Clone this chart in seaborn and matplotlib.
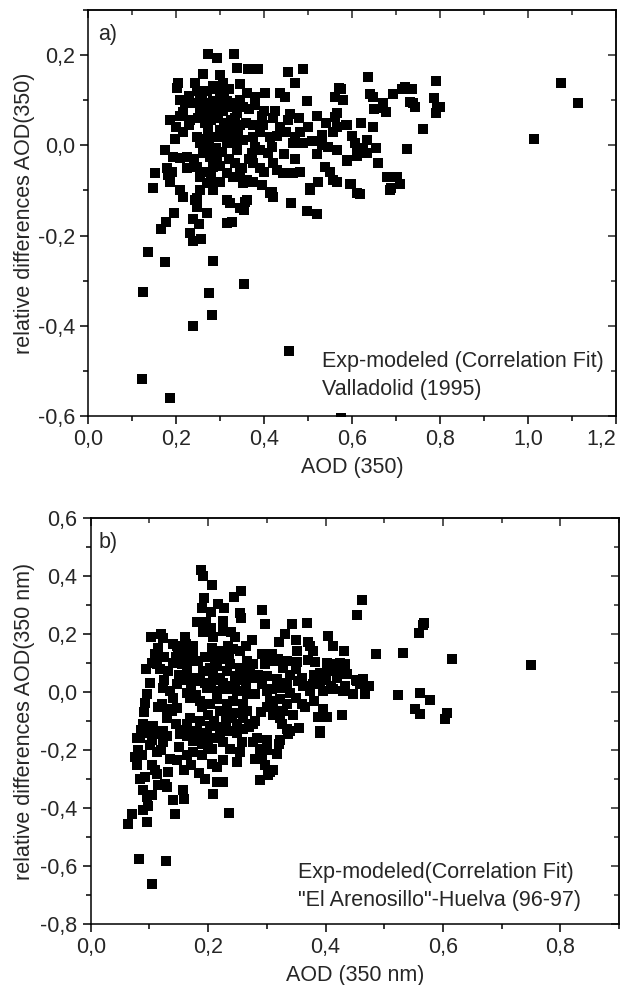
import numpy as np
import pandas as pd
import matplotlib
matplotlib.use("Agg")
import matplotlib.pyplot as plt
import seaborn as sns
from matplotlib.ticker import MultipleLocator, FuncFormatter

# --- Panel a: Valladolid (1995) ---
aod_a = [
    0.273, 0.293, 0.332, 0.339, 0.364, 0.386, 0.455, 0.489, 0.261, 0.300,
    0.205, 0.202, 0.243, 0.248, 0.284, 0.307, 0.345, 0.470, 0.570, 0.561,
    0.361, 0.380, 0.402, 0.436, 0.448, 0.498, 0.255, 0.270, 0.284, 0.300,
    0.316, 0.330, 0.293, 0.307, 0.323, 0.339, 0.352, 0.255, 0.270, 0.284,
    0.239, 0.220, 0.216, 0.425, 0.395, 0.520, 0.566, 0.561, 0.186, 0.232,
    0.209, 0.334, 0.455, 0.436, 0.375, 0.398, 0.391, 0.273, 0.273, 0.300,
    0.316, 0.330, 0.341, 0.323, 0.307, 0.293, 0.352, 0.330, 0.316, 0.339,
    0.566, 0.589, 0.557, 0.532, 0.482, 0.470, 0.466, 0.489, 0.532, 0.545,
    0.566, 0.607, 0.611, 0.248, 0.255, 0.270, 0.284, 0.261, 0.198, 0.375,
    0.380, 0.373, 0.391, 0.414, 0.418, 0.409, 0.193, 0.209, 0.225, 0.277,
    0.293, 0.284, 0.375, 0.391, 0.430, 0.443, 0.466, 0.482, 0.539, 0.589,
    0.180, 0.152, 0.186, 0.182, 0.248, 0.255, 0.270, 0.284, 0.300, 0.316,
    0.330, 0.345, 0.361, 0.352, 0.375, 0.395, 0.505, 0.523, 0.557, 0.566,
    0.595, 0.148, 0.209, 0.216, 0.248, 0.316, 0.361, 0.418, 0.420, 0.636,
    0.791, 1.075, 1.114, 1.014, 0.575, 0.641, 0.648, 0.693, 0.714, 0.720,
    0.736, 0.670, 0.670, 0.677, 0.732, 0.743, 0.739, 0.786, 0.793, 0.800,
    0.791, 0.586, 0.648, 0.761, 0.607, 0.634, 0.625, 0.655, 0.634, 0.611,
    0.589, 0.725, 0.598, 0.618, 0.680, 0.702, 0.709, 0.689, 0.243, 0.248,
    0.195, 0.177, 0.166, 0.239, 0.252, 0.232, 0.239, 0.257, 0.270, 0.323,
    0.345, 0.357, 0.355, 0.316, 0.327, 0.414, 0.461, 0.498, 0.520, 0.505,
    0.611, 0.136, 0.175, 0.284, 0.125, 0.275, 0.355, 0.282, 0.239, 0.457,
    0.123, 0.186, 0.575, 0.284, 0.255, 0.686,
    0.260, 0.270, 0.290, 0.310, 0.320, 0.250, 0.265, 0.280, 0.295, 0.310,
    0.325, 0.345, 0.360, 0.260, 0.275, 0.290, 0.305, 0.320, 0.335, 0.350,
    0.365, 0.240, 0.225, 0.265, 0.280, 0.300, 0.215, 0.230, 0.345, 0.365,
    0.380, 0.400, 0.420, 0.430, 0.450, 0.460, 0.480, 0.500, 0.510, 0.470,
    0.445, 0.420, 0.400, 0.520, 0.540, 0.550, 0.580, 0.600, 0.620, 0.650,
    0.660, 0.200, 0.190, 0.175, 0.230, 0.210,
]
diff_a = [
    0.203, 0.194, 0.203, 0.172, 0.168, 0.170, 0.163, 0.168, 0.157, 0.155,
    0.137, 0.126, 0.139, 0.121, 0.132, 0.139, 0.135, 0.139, 0.126, 0.106,
    0.115, 0.106, 0.115, 0.115, 0.106, 0.099, 0.099, 0.093, 0.099, 0.106,
    0.099, 0.093, 0.084, 0.077, 0.084, 0.071, 0.084, 0.077, 0.071, 0.073,
    0.093, 0.095, 0.073, 0.077, 0.066, 0.066, 0.071, 0.062, 0.055, 0.055,
    0.066, 0.060, 0.055, 0.040, 0.044, 0.044, 0.029, 0.040, 0.029, 0.033,
    0.040, 0.033, 0.022, 0.018, 0.026, 0.018, 0.011, 0.004, 0.004, -0.011,
    0.040, 0.044, 0.029, 0.022, 0.029, 0.018, 0.004, 0.004, 0.000, -0.004,
    -0.011, 0.004, -0.018, 0.018, 0.004, -0.004, -0.011, -0.018, 0.015, 0.018,
    -0.004, -0.018, -0.011, 0.018, -0.004, -0.018, -0.026, -0.029, -0.026, -0.026,
    -0.033, -0.049, -0.040, -0.051, -0.055, -0.062, -0.062, -0.060, -0.049, -0.033,
    -0.051, -0.062, -0.082, -0.066, -0.049, -0.071, -0.084, -0.093, -0.082, -0.062,
    -0.071, -0.062, -0.077, -0.084, -0.082, -0.088, -0.095, -0.082, -0.077, -0.082,
    -0.086, -0.095, -0.099, -0.115, -0.117, -0.121, -0.121, -0.104, -0.115, 0.152,
    0.143, 0.137, 0.093, 0.013, 0.124, 0.113, 0.106, 0.113, 0.124, 0.130,
    0.124, 0.093, 0.082, 0.073, 0.097, 0.084, 0.093, 0.104, 0.084, 0.084,
    0.071, 0.044, 0.040, 0.035, 0.004, 0.011, -0.007, -0.007, -0.018, -0.024,
    -0.035, -0.009, -0.086, -0.108, -0.071, -0.071, -0.086, -0.095, -0.121, -0.137,
    -0.150, -0.170, -0.185, -0.163, -0.174, -0.194, -0.212, -0.208, -0.150, -0.128,
    -0.139, -0.126, -0.143, -0.172, -0.170, -0.106, -0.128, -0.146, -0.152, -0.099,
    -0.106, -0.236, -0.258, -0.256, -0.325, -0.327, -0.307, -0.377, -0.400, -0.455,
    -0.519, -0.561, -0.605, -0.099, -0.099, -0.099,
    0.110, 0.120, 0.125, 0.115, 0.125, 0.060, 0.050, 0.055, 0.060, 0.050,
    0.055, 0.045, 0.050, 0.015, 0.010, -0.005, -0.015, -0.030, -0.040, -0.050,
    -0.030, -0.030, -0.050, -0.060, -0.070, -0.045, 0.030, 0.045, 0.100, 0.080,
    0.090, 0.075, 0.060, 0.020, 0.030, 0.070, 0.060, 0.040, 0.010, -0.030,
    -0.020, -0.040, -0.060, -0.020, 0.050, -0.060, 0.100, 0.020, 0.050, 0.080,
    -0.040, 0.040, -0.060, -0.010, 0.110, 0.100,
]

# --- Panel b: "El Arenosillo"-Huelva (96-97) ---
aod_b = [
    0.462, 0.454, 0.568, 0.566, 0.559, 0.432, 0.486, 0.532, 0.616, 0.750,
    0.433, 0.425, 0.430, 0.425, 0.452, 0.464, 0.459, 0.474, 0.433, 0.430,
    0.447, 0.467, 0.524, 0.561, 0.578, 0.553, 0.561, 0.607, 0.604, 0.428,
    0.188, 0.191, 0.207, 0.256, 0.244, 0.193, 0.217, 0.227, 0.190, 0.205,
    0.254, 0.256, 0.292, 0.181, 0.196, 0.225, 0.297, 0.191, 0.208, 0.239,
    0.343, 0.369, 0.331, 0.321, 0.350, 0.370, 0.373, 0.404, 0.413, 0.103,
    0.120, 0.123, 0.115, 0.140, 0.147, 0.162, 0.174, 0.207, 0.220, 0.234,
    0.242, 0.232, 0.212, 0.225, 0.351, 0.351, 0.379, 0.382, 0.292, 0.309,
    0.311, 0.297, 0.319, 0.334, 0.327, 0.149, 0.164, 0.173, 0.156, 0.164,
    0.104, 0.113, 0.118, 0.132, 0.266, 0.276, 0.271, 0.254, 0.246, 0.260,
    0.183, 0.191, 0.203, 0.208, 0.220, 0.232, 0.237, 0.186, 0.198, 0.174,
    0.403, 0.413, 0.390, 0.408, 0.437, 0.454, 0.300, 0.318, 0.334, 0.292,
    0.309, 0.322, 0.339, 0.353, 0.362, 0.379, 0.373, 0.396, 0.413, 0.101,
    0.096, 0.093, 0.123, 0.135, 0.147, 0.140, 0.164, 0.169, 0.215, 0.232,
    0.249, 0.266, 0.280, 0.300, 0.121, 0.130, 0.138, 0.147, 0.186, 0.203,
    0.215, 0.232, 0.242, 0.260, 0.220, 0.232, 0.249, 0.266, 0.305, 0.322,
    0.334, 0.311, 0.327, 0.322, 0.360, 0.387, 0.403, 0.390, 0.355, 0.339,
    0.326, 0.334, 0.089, 0.106, 0.101, 0.123, 0.079, 0.130, 0.152, 0.169,
    0.181, 0.198, 0.215, 0.232, 0.249, 0.260, 0.276, 0.283, 0.300, 0.322,
    0.169, 0.186, 0.203, 0.164, 0.084, 0.101, 0.081, 0.076, 0.087, 0.113,
    0.123, 0.121, 0.110, 0.104, 0.164, 0.191, 0.200, 0.207, 0.190, 0.174,
    0.164, 0.147, 0.220, 0.225, 0.237, 0.254, 0.258, 0.079, 0.084, 0.093,
    0.089, 0.096, 0.104, 0.089, 0.098, 0.096, 0.070, 0.064, 0.113, 0.132,
    0.127, 0.130, 0.159, 0.157, 0.159, 0.140, 0.144, 0.207, 0.215, 0.225,
    0.215, 0.225, 0.208, 0.236, 0.276, 0.288, 0.292, 0.297, 0.305, 0.311,
    0.302, 0.288, 0.318, 0.336, 0.390, 0.082, 0.128, 0.104,
    0.110, 0.125, 0.140, 0.150, 0.160, 0.170, 0.180, 0.190, 0.200, 0.210,
    0.220, 0.230, 0.240, 0.250, 0.260, 0.270, 0.280, 0.290, 0.300, 0.310,
    0.195, 0.205, 0.215, 0.225, 0.235, 0.245, 0.255, 0.265, 0.275, 0.285,
    0.195, 0.215, 0.235, 0.255, 0.265, 0.275, 0.245, 0.225, 0.205, 0.175,
    0.160, 0.145, 0.125, 0.115, 0.130, 0.145, 0.160, 0.175, 0.190, 0.205,
    0.150, 0.135, 0.120, 0.105, 0.115, 0.110, 0.340, 0.350, 0.360, 0.370,
    0.380, 0.390, 0.400, 0.410, 0.420, 0.350, 0.365, 0.380, 0.395, 0.345,
    0.320, 0.300, 0.280, 0.250, 0.185, 0.195, 0.170, 0.090, 0.085, 0.095,
]
diff_b = [
    0.317, 0.265, 0.237, 0.230, 0.202, 0.143, 0.132, 0.136, 0.115, 0.094,
    0.098, 0.101, 0.063, 0.066, 0.042, 0.045, 0.028, 0.021, 0.021, 0.003,
    -0.007, -0.007, -0.010, -0.003, -0.028, -0.059, -0.077, -0.073, -0.094, -0.080,
    0.422, 0.401, 0.369, 0.348, 0.328, 0.324, 0.303, 0.289, 0.289, 0.275,
    0.272, 0.254, 0.282, 0.240, 0.240, 0.244, 0.233, 0.206, 0.188, 0.206,
    0.233, 0.237, 0.199, 0.174, 0.178, 0.171, 0.160, 0.192, 0.160, 0.188,
    0.199, 0.185, 0.153, 0.167, 0.160, 0.167, 0.160, 0.153, 0.143, 0.160,
    0.150, 0.132, 0.118, 0.115, 0.143, 0.105, 0.143, 0.105, 0.132, 0.132,
    0.108, 0.098, 0.115, 0.108, 0.084, 0.125, 0.132, 0.108, 0.098, 0.073,
    0.101, 0.098, 0.080, 0.073, 0.108, 0.098, 0.073, 0.084, 0.056, 0.049,
    0.108, 0.073, 0.084, 0.056, 0.049, 0.073, 0.098, 0.038, 0.014, 0.049,
    0.101, 0.098, 0.066, 0.073, 0.063, 0.038, 0.056, 0.045, 0.031, 0.028,
    0.010, 0.014, -0.003, 0.038, 0.021, 0.028, 0.003, 0.003, 0.010, 0.031,
    -0.007, -0.038, 0.014, 0.003, 0.028, -0.021, -0.003, -0.021, 0.003, 0.010,
    0.003, -0.007, -0.007, 0.003, -0.042, -0.059, -0.066, -0.056, -0.031, -0.042,
    -0.024, -0.042, -0.031, -0.042, -0.066, -0.073, -0.073, -0.066, -0.031, -0.024,
    -0.042, -0.056, -0.066, -0.091, -0.042, -0.087, -0.087, -0.136, -0.125, -0.136,
    -0.111, -0.129, -0.111, -0.118, -0.143, -0.136, -0.160, -0.153, -0.146, -0.146,
    -0.136, -0.143, -0.160, -0.136, -0.143, -0.129, -0.111, -0.160, -0.164, -0.164,
    -0.091, -0.101, -0.118, -0.111, -0.160, -0.181, -0.199, -0.223, -0.216, -0.206,
    -0.171, -0.146, -0.146, -0.164, -0.153, -0.146, -0.181, -0.195, -0.216, -0.206,
    -0.216, -0.233, -0.146, -0.171, -0.195, -0.206, -0.171, -0.251, -0.300, -0.293,
    -0.338, -0.362, -0.355, -0.408, -0.394, -0.449, -0.422, -0.456, -0.282, -0.275,
    -0.317, -0.328, -0.268, -0.338, -0.369, -0.373, -0.422, -0.247, -0.258, -0.233,
    -0.310, -0.310, -0.352, -0.418, -0.171, -0.195, -0.216, -0.251, -0.275, -0.268,
    -0.286, -0.303, -0.213, -0.146, -0.143, -0.575, -0.582, -0.662,
    0.130, 0.120, 0.100, 0.060, 0.040, 0.020, -0.010, -0.050, -0.080, -0.100,
    -0.120, -0.100, -0.090, -0.110, -0.090, -0.120, -0.100, -0.070, -0.050, -0.080,
    0.030, 0.020, 0.040, 0.030, 0.020, 0.030, 0.040, 0.020, 0.050, 0.060,
    0.120, 0.090, 0.120, 0.140, 0.160, 0.180, 0.190, 0.210, 0.220, 0.140,
    0.190, 0.120, 0.040, -0.050, -0.090, -0.110, -0.130, -0.170, -0.180, -0.160,
    -0.190, -0.230, -0.200, -0.250, -0.320, -0.270, 0.060, 0.080, 0.050, 0.110,
    0.060, 0.030, 0.040, 0.020, 0.050, -0.020, -0.050, -0.030, -0.060, -0.080,
    -0.180, -0.200, -0.230, -0.240, -0.280, -0.300, -0.250, -0.070, -0.130, 0.080,
]

df_a = pd.DataFrame({"aod": aod_a, "diff": diff_a})
df_b = pd.DataFrame({"aod": aod_b, "diff": diff_b})

sns.set_style("ticks")
plt.rcParams["font.family"] = ["Liberation Sans", "DejaVu Sans"]
plt.rcParams["font.size"] = 15.5
plt.rcParams["axes.linewidth"] = 1.1

FS = 15.5
comma = FuncFormatter(lambda v, pos: f"{v:.1f}".replace(".", ","))

fig = plt.figure(figsize=(6.27, 9.85), dpi=100)
ax_a = fig.add_axes([0.1404, 0.5777, 0.8421, 0.4122])
ax_b = fig.add_axes([0.1447, 0.0619, 0.8426, 0.4122])

for ax, df in [(ax_a, df_a), (ax_b, df_b)]:
    sns.scatterplot(data=df, x="aod", y="diff", ax=ax, marker="s", color="black",
                    s=48, linewidth=0, clip_on=True)
    ax.xaxis.set_major_locator(MultipleLocator(0.2))
    ax.xaxis.set_minor_locator(MultipleLocator(0.1))
    ax.yaxis.set_major_locator(MultipleLocator(0.2))
    ax.yaxis.set_minor_locator(MultipleLocator(0.1))
    ax.xaxis.set_major_formatter(comma)
    ax.yaxis.set_major_formatter(comma)
    ax.tick_params(which="both", direction="out", top=False, right=False,
                   labelsize=FS, color="black", width=1.1)
    ax.tick_params(which="major", length=6)
    ax.tick_params(which="minor", length=3.5)
    for sp in ax.spines.values():
        sp.set_color("black")
        sp.set_visible(True)

    # inward ticks on top and right
    top = ax.secondary_xaxis("top")
    top.xaxis.set_major_locator(MultipleLocator(0.2))
    top.xaxis.set_minor_locator(MultipleLocator(0.1))
    top.tick_params(which="both", direction="in", labeltop=False, width=1.1)
    top.tick_params(which="major", length=6)
    top.tick_params(which="minor", length=3.5)
    right = ax.secondary_yaxis("right")
    right.yaxis.set_major_locator(MultipleLocator(0.2))
    right.yaxis.set_minor_locator(MultipleLocator(0.1))
    right.tick_params(which="both", direction="in", labelright=False, width=1.1)
    right.tick_params(which="major", length=6)
    right.tick_params(which="minor", length=3.5)

ax_a.set_xlim(0.0, 1.2)
ax_a.set_ylim(-0.6, 0.3)
ax_a.set_xlabel("AOD (350)", fontsize=FS)
ax_a.set_ylabel("relative differences AOD(350)", fontsize=FS)
ax_a.xaxis.set_label_coords(0.5, -0.10)
ax_a.yaxis.set_label_coords(-0.10, 0.5)
ax_a.text(0.02, 0.965, "a)", transform=ax_a.transAxes, ha="left", va="top", fontsize=FS)
ax_a.text(0.443, 0.133, "Exp-modeled (Correlation Fit)", transform=ax_a.transAxes,
          ha="left", va="center", fontsize=FS)
ax_a.text(0.443, 0.064, "Valladolid (1995)", transform=ax_a.transAxes,
          ha="left", va="center", fontsize=FS)

ax_b.set_xlim(0.0, 0.9)
ax_b.set_ylim(-0.8, 0.6)
ax_b.set_xlabel("AOD (350 nm)", fontsize=FS)
ax_b.set_ylabel("relative differences AOD(350 nm)", fontsize=FS)
ax_b.xaxis.set_label_coords(0.5, -0.10)
ax_b.yaxis.set_label_coords(-0.105, 0.5)
ax_b.text(0.014, 0.965, "b)", transform=ax_b.transAxes, ha="left", va="top", fontsize=FS)
ax_b.text(0.393, 0.128, "Exp-modeled(Correlation Fit)", transform=ax_b.transAxes,
          ha="left", va="center", fontsize=FS)
ax_b.text(0.393, 0.059, "\"El Arenosillo\"-Huelva (96-97)", transform=ax_b.transAxes,
          ha="left", va="center", fontsize=FS)

# keep the "1,2" tick label of panel a inside the figure
fig.canvas.draw()
for tick in ax_a.xaxis.get_major_ticks():
    if tick.label1.get_text() == "1,2":
        tick.label1.set_horizontalalignment("right")
        tick.label1.set_x(tick.label1.get_position()[0])

fig.savefig("out.png", dpi=100)
